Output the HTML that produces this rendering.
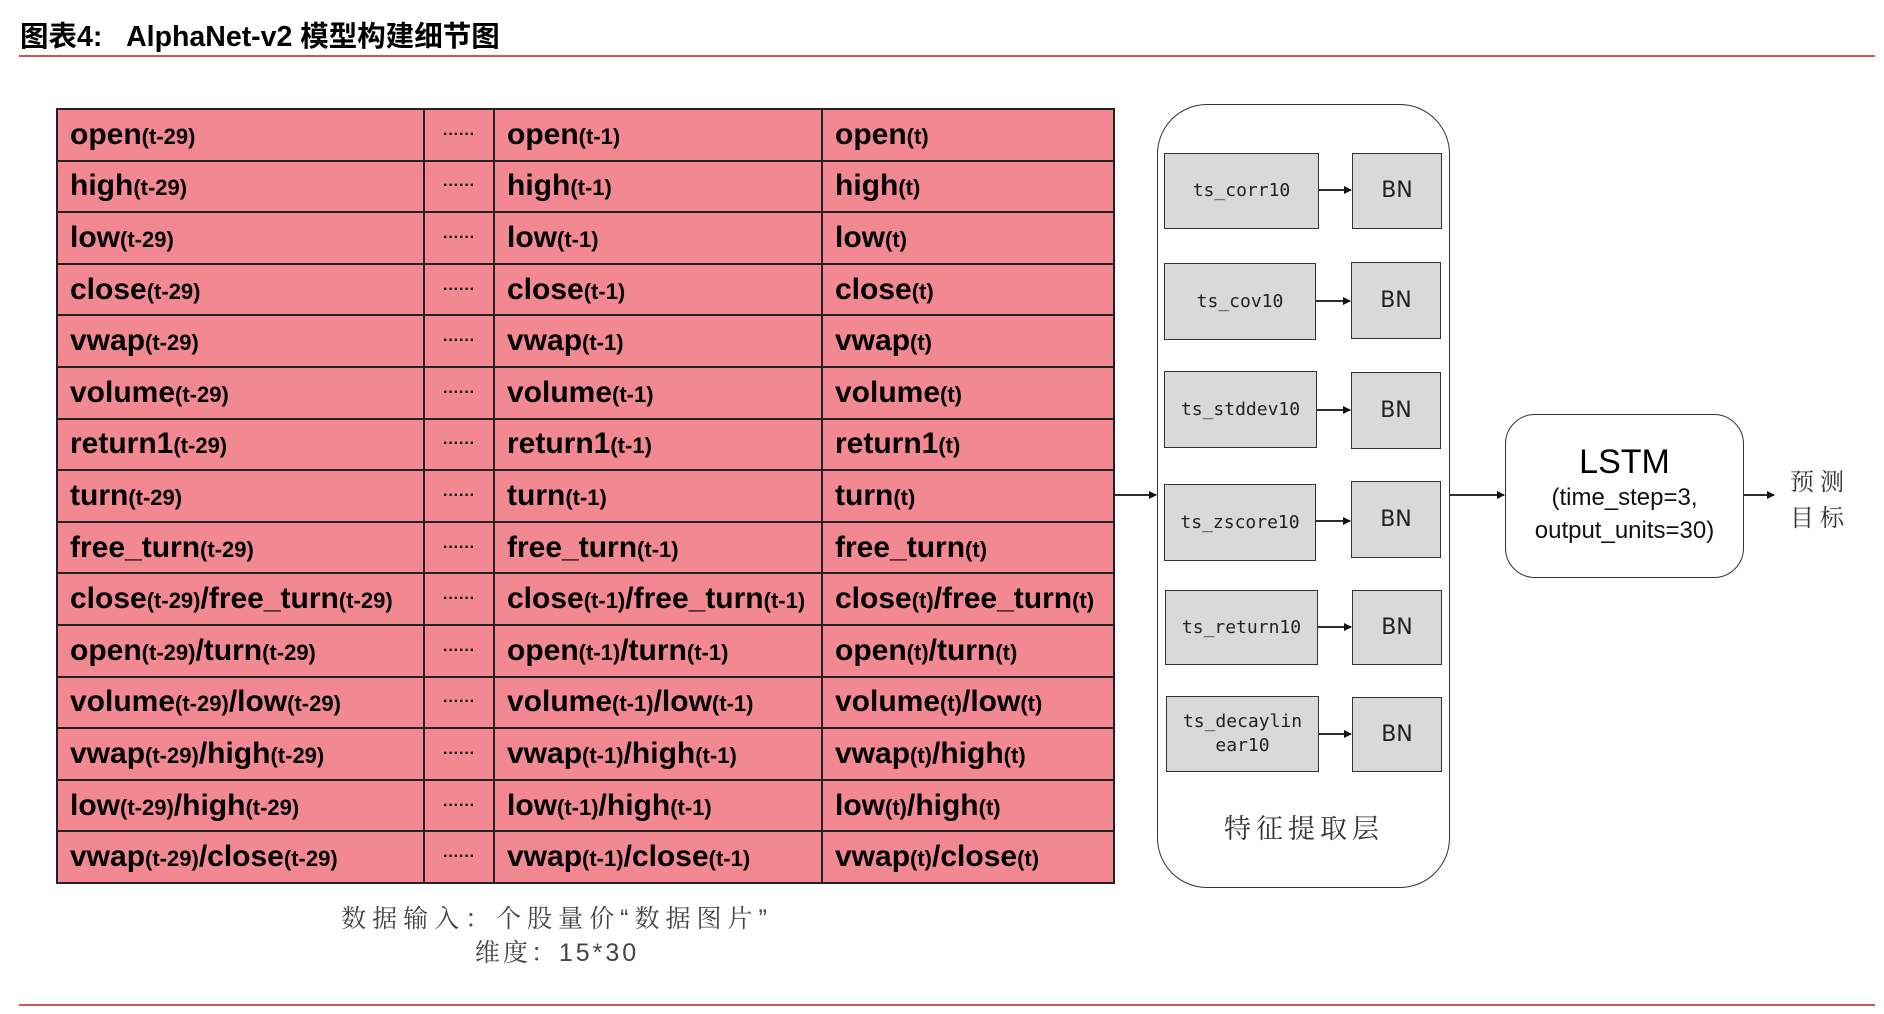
<!DOCTYPE html>
<html><head><meta charset="utf-8">
<style>
body{margin:0;width:1884px;height:1014px;background:#fff;position:relative;overflow:hidden;font-family:"Liberation Sans","Noto Sans CJK SC",sans-serif;}
.abs{position:absolute;}
table{position:absolute;left:56px;top:108px;border-collapse:collapse;background:#F28891;table-layout:fixed;width:1057px;}
td{border:2px solid #222;height:49.6px;padding:0 0 0 12px;font-weight:bold;font-size:30px;color:#000;white-space:nowrap;overflow:hidden;}
td small{font-size:22px;font-weight:bold;}
td.d{text-align:center;padding:0;font-size:16px;font-weight:bold;}
.box{position:absolute;background:#d9d9d9;border:1.5px solid #333;box-sizing:border-box;display:flex;align-items:center;justify-content:center;font-family:"DejaVu Sans Mono",monospace;font-size:18px;color:#222;text-align:center;line-height:24px;}
.bn{font-family:"DejaVu Sans","Liberation Sans",sans-serif;font-size:22px;}
</style></head><body>
<div class="abs" style="left:20px;top:14px;font-size:28.5px;font-weight:bold;">图表4:&nbsp;&nbsp; AlphaNet-v2 模型构建细节图</div>
<div class="abs" style="left:19px;top:55px;width:1856px;height:2px;background:#d9534f;"></div>
<div class="abs" style="left:19px;top:1004px;width:1856px;height:2px;background:#d9534f;"></div>

<table>
<colgroup><col style="width:367px"><col style="width:70px"><col style="width:328px"><col style="width:292px"></colgroup>
<tr><td>open<small>(t-29)</small></td><td class="d">······</td><td>open<small>(t-1)</small></td><td>open<small>(t)</small></td></tr>
<tr><td>high<small>(t-29)</small></td><td class="d">······</td><td>high<small>(t-1)</small></td><td>high<small>(t)</small></td></tr>
<tr><td>low<small>(t-29)</small></td><td class="d">······</td><td>low<small>(t-1)</small></td><td>low<small>(t)</small></td></tr>
<tr><td>close<small>(t-29)</small></td><td class="d">······</td><td>close<small>(t-1)</small></td><td>close<small>(t)</small></td></tr>
<tr><td>vwap<small>(t-29)</small></td><td class="d">······</td><td>vwap<small>(t-1)</small></td><td>vwap<small>(t)</small></td></tr>
<tr><td>volume<small>(t-29)</small></td><td class="d">······</td><td>volume<small>(t-1)</small></td><td>volume<small>(t)</small></td></tr>
<tr><td>return1<small>(t-29)</small></td><td class="d">······</td><td>return1<small>(t-1)</small></td><td>return1<small>(t)</small></td></tr>
<tr><td>turn<small>(t-29)</small></td><td class="d">······</td><td>turn<small>(t-1)</small></td><td>turn<small>(t)</small></td></tr>
<tr><td>free_turn<small>(t-29)</small></td><td class="d">······</td><td>free_turn<small>(t-1)</small></td><td>free_turn<small>(t)</small></td></tr>
<tr><td>close<small>(t-29)</small>/free_turn<small>(t-29)</small></td><td class="d">······</td><td>close<small>(t-1)</small>/free_turn<small>(t-1)</small></td><td>close<small>(t)</small>/free_turn<small>(t)</small></td></tr>
<tr><td>open<small>(t-29)</small>/turn<small>(t-29)</small></td><td class="d">······</td><td>open<small>(t-1)</small>/turn<small>(t-1)</small></td><td>open<small>(t)</small>/turn<small>(t)</small></td></tr>
<tr><td>volume<small>(t-29)</small>/low<small>(t-29)</small></td><td class="d">······</td><td>volume<small>(t-1)</small>/low<small>(t-1)</small></td><td>volume<small>(t)</small>/low<small>(t)</small></td></tr>
<tr><td>vwap<small>(t-29)</small>/high<small>(t-29)</small></td><td class="d">······</td><td>vwap<small>(t-1)</small>/high<small>(t-1)</small></td><td>vwap<small>(t)</small>/high<small>(t)</small></td></tr>
<tr><td>low<small>(t-29)</small>/high<small>(t-29)</small></td><td class="d">······</td><td>low<small>(t-1)</small>/high<small>(t-1)</small></td><td>low<small>(t)</small>/high<small>(t)</small></td></tr>
<tr><td>vwap<small>(t-29)</small>/close<small>(t-29)</small></td><td class="d">······</td><td>vwap<small>(t-1)</small>/close<small>(t-1)</small></td><td>vwap<small>(t)</small>/close<small>(t)</small></td></tr>
</table>

<div class="abs" style="left:287px;top:902px;width:540px;text-align:center;font-size:25px;letter-spacing:6px;color:#444;line-height:34px;font-family:'Liberation Sans','Noto Serif CJK SC',serif;">数据输入：个股量价“数据图片”<br><span style="letter-spacing:3px">维度：15*30</span></div>

<div class="abs" style="left:1157px;top:104px;width:293px;height:784px;border:1.5px solid #333;border-radius:50px;box-sizing:border-box;"></div>

<div class="box" style="left:1164px;top:153px;width:155px;height:76px;">ts_corr10</div>
<div class="box bn" style="left:1352px;top:153px;width:90px;height:76px;">BN</div>
<div class="box" style="left:1164px;top:263px;width:152px;height:77px;">ts_cov10</div>
<div class="box bn" style="left:1351px;top:262px;width:90px;height:77px;">BN</div>
<div class="box" style="left:1164px;top:371px;width:153px;height:77px;">ts_stddev10</div>
<div class="box bn" style="left:1351px;top:372px;width:90px;height:77px;">BN</div>
<div class="box" style="left:1164px;top:484px;width:152px;height:77px;">ts_zscore10</div>
<div class="box bn" style="left:1351px;top:481px;width:90px;height:77px;">BN</div>
<div class="box" style="left:1165px;top:590px;width:153px;height:75px;">ts_return10</div>
<div class="box bn" style="left:1352px;top:590px;width:90px;height:75px;">BN</div>
<div class="box" style="left:1166px;top:696px;width:153px;height:76px;">ts_decaylin<br>ear10</div>
<div class="box bn" style="left:1352px;top:697px;width:90px;height:75px;">BN</div>

<div class="abs" style="left:1190px;top:807px;width:228px;text-align:center;font-size:27px;letter-spacing:5px;color:#333;font-family:'Noto Serif CJK SC',serif;">特征提取层</div>

<div class="abs" style="left:1505px;top:414px;width:239px;height:164px;border:1.5px solid #333;border-radius:30px;box-sizing:border-box;text-align:center;">
<div style="font-size:34px;margin-top:28px;line-height:38px;">LSTM</div>
<div style="font-size:24px;line-height:33px;color:#111;">(time_step=3,<br>output_units=30)</div>
</div>

<div class="abs" style="left:1790px;top:462px;font-size:24px;color:#333;line-height:36px;letter-spacing:6px;font-family:'Noto Serif CJK SC',serif;">预测<br>目标</div>

<svg class="abs" style="left:0;top:0" width="1884" height="1014">
<defs><marker id="a" markerWidth="8" markerHeight="8" refX="7" refY="4" orient="auto" markerUnits="userSpaceOnUse"><path d="M0,0 L8,4 L0,8 z" fill="#111"/></marker></defs>
<g stroke="#111" stroke-width="1.8" fill="none" marker-end="url(#a)">
<line x1="1113" y1="495" x2="1156" y2="495"/>
<line x1="1450" y1="495" x2="1504" y2="495"/>
<line x1="1744" y1="495" x2="1774" y2="495"/>
<line x1="1319" y1="190" x2="1351" y2="190"/>
<line x1="1316" y1="301" x2="1350" y2="301"/>
<line x1="1317" y1="410" x2="1350" y2="410"/>
<line x1="1316" y1="521" x2="1350" y2="521"/>
<line x1="1318" y1="627" x2="1351" y2="627"/>
<line x1="1319" y1="734" x2="1351" y2="734"/>
</g>
</svg>
</body></html>
